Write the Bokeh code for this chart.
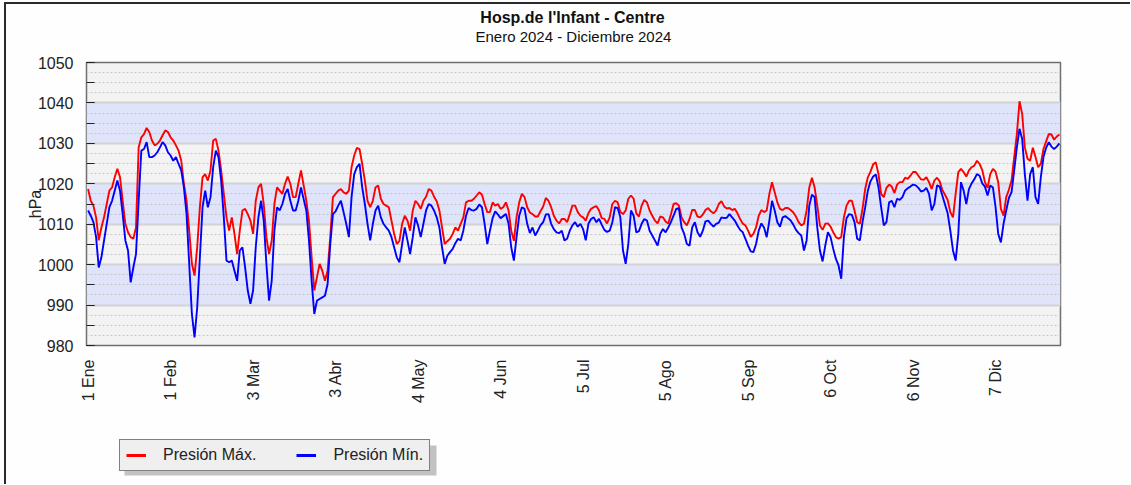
from math import pi
from bokeh.plotting import figure
from bokeh.layouts import column
from bokeh.models import (Range1d, FixedTicker, SingleIntervalTicker, BoxAnnotation,
                          Label, Legend, LegendItem, Grid)
from bokeh.embed import file_html
from bokeh.resources import INLINE

title_text = "Hosp.de l'Infant - Centre"
subtitle_text = "Enero 2024 -  Diciembre 2024"
y_label = "hPa"
series_names = ["Presión Máx.", "Presión Mín."]
series_colors = ["#ff0000", "#0000ff"]

tick_days = [0, 31, 62, 93, 124, 155, 186, 217, 248, 279, 310, 341]
tick_labels = ["1 Ene", "1 Feb", "3 Mar", "3 Abr", "4 May", "4 Jun",
               "5 Jul", "5 Ago", "5 Sep", "6 Oct", "6 Nov", "7 Dic"]

band_lows = [990, 1010, 1030]

days = list(range(366))

pres_max = [
    1018.7, 1015.8, 1014.6, 1011.7, 1006.0, 1009.2, 1011.7, 1015.0, 1018.3, 1019.1,
    1021.6, 1023.7, 1021.6, 1015.8, 1010.1, 1008.0, 1006.8, 1006.4, 1009.2, 1029.0,
    1031.5, 1032.3, 1033.8, 1032.8, 1030.7, 1029.5, 1029.9, 1030.7, 1032.0, 1033.2,
    1032.8, 1031.5, 1030.7, 1029.5, 1028.2, 1025.7, 1020.0, 1015.8, 1008.4, 1000.2,
    997.3, 1004.3, 1014.2, 1021.6, 1022.4, 1020.8, 1023.3, 1030.7, 1031.1, 1028.2,
    1023.3, 1017.5, 1011.7, 1008.4, 1011.7, 1007.6, 1002.6, 1008.4, 1013.4, 1013.8,
    1012.5, 1010.9, 1007.6, 1015.8, 1019.1, 1020.0, 1015.0, 1006.8, 1002.6, 1005.9,
    1015.0, 1019.1, 1018.3, 1017.5, 1020.0, 1021.8, 1020.0, 1016.7, 1016.7, 1020.0,
    1023.3, 1019.6, 1015.8, 1010.9, 1001.8, 993.6, 996.9, 1000.2, 998.5, 996.0,
    998.5, 1006.8, 1016.7, 1017.5, 1018.3, 1018.7, 1017.9, 1017.5, 1018.3, 1024.1,
    1027.0, 1028.9, 1028.6, 1024.9, 1020.8, 1015.8, 1014.2, 1015.8, 1019.1, 1019.6,
    1016.3, 1015.0, 1014.6, 1014.2, 1010.9, 1007.6, 1005.1, 1005.9, 1010.1, 1012.1,
    1010.9, 1008.4, 1013.4, 1015.8, 1015.0, 1013.8, 1015.8, 1016.8, 1018.7, 1018.3,
    1016.8, 1015.7, 1013.4, 1009.2, 1005.1, 1005.8, 1006.4, 1007.6, 1009.2, 1008.4,
    1010.1, 1011.7, 1015.4, 1015.8, 1015.8, 1016.3, 1017.1, 1017.9, 1017.3, 1015.0,
    1013.0, 1013.0, 1015.4, 1014.6, 1015.0, 1013.8, 1014.2, 1015.4, 1013.4, 1008.4,
    1005.9, 1011.7, 1015.4, 1017.5, 1016.7, 1014.2, 1012.9, 1012.5, 1011.9, 1011.9,
    1013.2, 1014.4, 1016.5, 1015.8, 1014.2, 1012.1, 1010.9, 1010.2, 1011.3, 1011.3,
    1010.5, 1012.5, 1014.6, 1014.6, 1013.0, 1012.1, 1011.7, 1010.9, 1012.7, 1013.8,
    1014.2, 1014.5, 1013.4, 1011.5, 1011.3, 1010.2, 1011.7, 1015.0, 1015.8, 1015.4,
    1013.0, 1012.5, 1013.4, 1016.3, 1017.1, 1016.3, 1012.7, 1011.9, 1014.6, 1016.0,
    1015.4, 1013.4, 1012.1, 1010.9, 1010.2, 1011.9, 1011.7, 1010.7, 1010.2, 1012.4,
    1015.0, 1015.2, 1014.6, 1011.7, 1010.5, 1009.7, 1011.3, 1013.5, 1013.5, 1011.9,
    1011.7, 1012.4, 1013.5, 1014.0, 1013.2, 1012.7, 1013.4, 1015.0, 1015.7, 1014.4,
    1013.9, 1014.0, 1013.5, 1013.8, 1012.7, 1011.3, 1010.2, 1009.7, 1008.4, 1006.9,
    1007.6, 1009.2, 1012.1, 1013.5, 1013.0, 1013.4, 1017.5, 1020.4, 1017.9, 1015.4,
    1013.8, 1013.5, 1014.0, 1014.0, 1013.5, 1012.9, 1011.9, 1010.5, 1009.7, 1010.1,
    1013.4, 1019.1, 1021.5, 1019.1, 1014.6, 1009.7, 1008.6, 1010.1, 1010.2, 1009.4,
    1008.0, 1006.8, 1006.4, 1006.8, 1011.7, 1014.6, 1015.8, 1015.8, 1013.4, 1010.5,
    1010.1, 1013.8, 1018.7, 1021.6, 1023.0, 1024.8, 1025.3, 1022.4, 1017.5, 1016.7,
    1019.0, 1019.8, 1019.3, 1017.7, 1019.8, 1020.4, 1020.4, 1021.5, 1021.2, 1022.0,
    1022.9, 1022.9, 1022.0, 1021.1, 1021.0, 1021.6, 1020.4, 1018.7, 1020.8, 1021.5,
    1020.6, 1018.5, 1017.3, 1016.0, 1013.0, 1011.7, 1017.5, 1022.9, 1023.7, 1022.9,
    1021.8, 1023.3, 1024.1, 1024.5, 1025.7, 1024.9, 1023.4, 1020.4, 1019.0, 1022.4,
    1023.7, 1023.0, 1020.4, 1013.8, 1012.1, 1016.7, 1018.5, 1020.8, 1026.6, 1032.3,
    1040.4, 1037.3, 1029.0, 1026.2, 1025.7, 1028.9, 1026.6, 1024.1, 1024.9, 1028.6,
    1030.5, 1032.3, 1032.2, 1030.9, 1031.7, 1032.2,
]

pres_min = [
    1013.4, 1012.1, 1010.5, 1006.8, 999.3, 1001.8, 1006.0, 1010.1, 1014.2, 1015.8,
    1018.3, 1020.8, 1018.3, 1012.5, 1006.0, 1003.5, 995.6, 999.3, 1002.6, 1015.8,
    1028.2, 1028.6, 1030.3, 1026.6, 1026.6, 1027.0, 1027.8, 1029.0, 1030.3, 1029.5,
    1027.8, 1027.0, 1025.7, 1026.6, 1024.9, 1023.3, 1019.1, 1012.5, 1000.2, 987.8,
    982.0, 989.4, 1001.8, 1014.2, 1018.3, 1014.2, 1016.7, 1024.1, 1028.2, 1026.6,
    1020.8, 1011.7, 1001.0, 1000.6, 1001.0, 998.5, 996.0, 1003.5, 1004.3, 999.3,
    993.6, 990.3, 993.6, 1004.3, 1011.7, 1015.8, 1010.9, 1000.2, 991.1, 996.0,
    1008.4, 1014.2, 1013.4, 1015.0, 1017.5, 1018.7, 1015.8, 1013.4, 1013.4, 1015.8,
    1019.1, 1016.2, 1013.4, 1006.0, 996.0, 987.8, 991.1, 991.5, 991.9, 992.3,
    995.2, 1005.1, 1012.5, 1013.2, 1014.6, 1015.8, 1013.0, 1010.1, 1006.8, 1016.7,
    1022.4, 1024.1, 1024.9, 1019.1, 1015.0, 1010.1, 1006.0, 1010.1, 1013.4, 1014.6,
    1011.7, 1010.1, 1009.2, 1008.4, 1006.8, 1004.3, 1001.8, 1000.6, 1005.1, 1009.2,
    1006.0, 1002.6, 1006.8, 1011.7, 1009.7, 1006.8, 1010.1, 1013.4, 1015.0, 1014.6,
    1013.4, 1011.7, 1009.2, 1004.3, 1000.2, 1002.2, 1003.1, 1003.9, 1005.3, 1006.4,
    1006.0, 1008.4, 1012.1, 1014.0, 1013.5, 1013.4, 1013.8, 1014.9, 1014.2, 1010.1,
    1005.1, 1008.4, 1011.5, 1013.2, 1012.4, 1011.5, 1012.0, 1012.5, 1010.1, 1004.3,
    1001.0, 1006.8, 1012.1, 1014.2, 1013.8, 1010.1, 1007.8, 1009.2, 1007.2, 1008.4,
    1009.7, 1010.5, 1012.4, 1012.5, 1010.1, 1008.8, 1008.0, 1007.8, 1008.4, 1006.0,
    1006.4, 1008.4, 1009.7, 1010.5, 1009.4, 1010.1, 1008.8, 1006.0, 1010.1, 1011.3,
    1011.7, 1010.5, 1011.3, 1009.9, 1008.6, 1008.1, 1008.4, 1010.5, 1014.2, 1014.0,
    1011.7, 1003.5, 1000.2, 1005.1, 1013.4, 1012.1, 1008.0, 1008.3, 1010.1, 1011.3,
    1010.9, 1008.4, 1007.2, 1006.0, 1004.7, 1007.6, 1008.8, 1008.0, 1009.2, 1010.5,
    1012.1, 1013.8, 1014.0, 1009.2, 1007.6, 1005.1, 1004.7, 1009.2, 1010.5, 1008.0,
    1006.9, 1008.4, 1010.7, 1010.9, 1010.1, 1009.4, 1010.1, 1010.4, 1011.7, 1011.5,
    1011.6, 1012.5, 1011.7, 1010.9, 1009.7, 1008.6, 1008.0, 1006.4, 1004.7, 1003.3,
    1003.1, 1005.1, 1008.4, 1010.2, 1009.2, 1006.8, 1010.9, 1015.8, 1013.4, 1010.5,
    1009.4, 1011.7, 1012.0, 1011.5, 1010.9, 1009.9, 1008.6, 1007.8, 1007.2, 1003.5,
    1006.0, 1014.6, 1017.3, 1016.7, 1009.2, 1003.5, 1000.8, 1004.7, 1008.0, 1006.8,
    1003.9, 1001.4, 999.8, 996.5, 1006.8, 1011.5, 1012.5, 1012.3, 1010.5, 1006.4,
    1006.0, 1010.5, 1014.2, 1018.3, 1020.6, 1021.8, 1022.3, 1019.1, 1014.2, 1009.7,
    1010.5, 1015.4, 1015.8, 1014.2, 1016.3, 1016.0, 1016.7, 1018.3, 1018.9, 1019.3,
    1019.8, 1019.6, 1019.0, 1018.1, 1018.3, 1019.0, 1017.5, 1013.4, 1015.0, 1019.6,
    1019.3, 1017.1, 1014.9, 1012.7, 1008.4, 1003.5, 1001.0, 1007.6, 1020.4, 1018.3,
    1015.0, 1018.7, 1020.1, 1021.1, 1022.4, 1022.0, 1020.1, 1019.3, 1017.1, 1019.6,
    1019.1, 1014.2, 1007.6, 1005.5, 1010.1, 1013.4, 1016.5, 1017.9, 1023.3, 1029.0,
    1033.6, 1031.1, 1022.4, 1015.8, 1022.4, 1024.1, 1016.7, 1015.0, 1021.6, 1026.6,
    1028.9, 1030.3, 1029.2, 1028.6, 1029.2, 1030.0,
]

FONT = "Liberation Sans"
W = 1130
NAN = float("nan")

# ---------- title strip (frame is aligned with the chart frame: x 86..1060) ----------
pt = figure(width=W, height=50, x_range=Range1d(86, 1060), y_range=Range1d(50, 0),
            x_axis_type=None, y_axis_type=None, output_backend="svg",
            toolbar_location=None, min_border=0)
pt.outline_line_color = None
pt.background_fill_color = None
pt.border_fill_color = None
pt.add_layout(Label(x=572, y=17, text=title_text, text_align="center",
                    text_baseline="middle", text_font=FONT, text_font_style="bold",
                    text_font_size="16px", text_color="#111111"))
pt.add_layout(Label(x=575, y=36, text=subtitle_text, text_align="center",
                    text_baseline="middle", text_font=FONT,
                    text_font_size="15px", text_color="#111111"))

# ---------- main chart ----------
p = figure(width=W, height=370,
           x_range=Range1d(-0.6, 365.4), y_range=Range1d(980, 1050),
           output_backend="svg", toolbar_location=None,
           min_border_left=86, min_border_right=70,
           min_border_top=12, min_border_bottom=75)

p.background_fill_color = "#f3f3f3"
p.border_fill_color = None
p.outline_line_color = "#6f6f6f"
p.outline_line_width = 1.5

for lo in band_lows:
    p.add_layout(BoxAnnotation(bottom=lo, top=lo + 10, fill_color="#dfe4fa",
                               fill_alpha=1.0, line_color=None, level="image"))

p.xgrid.visible = False
p.ygrid.ticker = SingleIntervalTicker(interval=2.5)
p.ygrid.grid_line_color = "#c6c6c6"
p.ygrid.grid_line_dash = "2 2"
p.ygrid.grid_line_width = 1

p.add_layout(Grid(dimension=1, ticker=SingleIntervalTicker(interval=10),
                  grid_line_color="#d3d3d3", grid_line_width=2))

p.yaxis.ticker = SingleIntervalTicker(interval=10, num_minor_ticks=2)
p.yaxis.major_tick_in = 8
p.yaxis.major_tick_out = 0
p.yaxis.minor_tick_in = 8
p.yaxis.minor_tick_out = 0
p.yaxis.major_tick_line_color = "#222222"
p.yaxis.minor_tick_line_color = "#222222"
p.yaxis.axis_line_color = None
p.yaxis.major_label_text_font = FONT
p.yaxis.major_label_text_font_size = "16px"
p.yaxis.major_label_text_color = "#222222"
p.yaxis.major_label_standoff = 13
p.yaxis.axis_label = y_label
p.yaxis.axis_label_text_font = FONT
p.yaxis.axis_label_text_font_style = "normal"
p.yaxis.axis_label_text_font_size = "16px"
p.yaxis.axis_label_text_color = "#222222"
p.yaxis.axis_label_standoff = -9

p.xaxis.ticker = FixedTicker(ticks=tick_days)
p.xaxis.major_label_overrides = {d: t for d, t in zip(tick_days, tick_labels)}
p.xaxis.major_label_orientation = pi / 2
p.xaxis.major_tick_in = 0
p.xaxis.major_tick_out = 0
p.xaxis.minor_tick_line_color = None
p.xaxis.axis_line_color = None
p.xaxis.major_label_text_font = FONT
p.xaxis.major_label_text_font_size = "16px"
p.xaxis.major_label_text_color = "#222222"
p.xaxis.major_label_standoff = 14

p.line(days, pres_max, line_color=series_colors[0], line_width=1.9)
p.line(days, pres_min, line_color=series_colors[1], line_width=1.9)

# ---------- legend strip (page-pixel coordinates: x 86..1060, y 420..484) ----------
pl = figure(width=W, height=64, x_range=Range1d(86, 1060), y_range=Range1d(484, 420),
            x_axis_type=None, y_axis_type=None, output_backend="svg",
            toolbar_location=None, min_border=0)
pl.outline_line_color = None
pl.background_fill_color = None
pl.border_fill_color = None

# drop shadow of the legend box
pl.add_layout(BoxAnnotation(left=124, right=436, top=445, bottom=475,
                            fill_color="#c2c2c2", fill_alpha=1.0, line_color=None,
                            level="underlay"))

lg_items = [LegendItem(label=n, renderers=[pl.line([NAN], [NAN], line_color=c, line_width=3)])
            for n, c in zip(series_names, series_colors)]
pl.add_layout(Legend(items=lg_items, location=(33, 13), orientation="horizontal",
                     background_fill_color="#efefef", background_fill_alpha=1.0,
                     border_line_color="#111111", border_line_width=1.5,
                     label_text_color="#222222", label_text_font=FONT,
                     label_text_font_size="16px", glyph_width=20, glyph_height=14,
                     label_height=14, label_standoff=17, spacing=40, padding=6,
                     margin=0))

layout = column(pt, p, pl, spacing=0, styles={
    "background-color": "#fdfefd",
    "background-image": "linear-gradient(#2a2a2a, #2a2a2a), linear-gradient(#2a2a2a, #2a2a2a)",
    "background-size": "2px 100%, 100% 2px",
    "background-position": "4px 2px, 4px 2px",
    "background-repeat": "no-repeat",
})

open("out.html", "w").write(file_html(layout, INLINE))
